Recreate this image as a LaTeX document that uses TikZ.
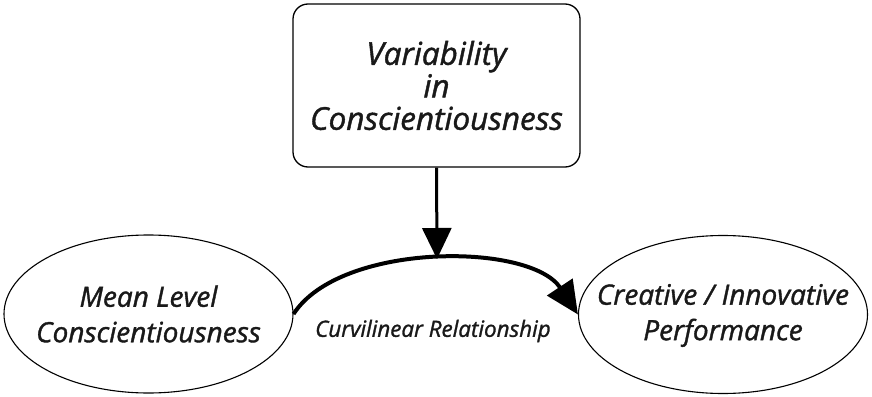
\documentclass[tikz,border=0pt]{standalone}
\usepackage{fontspec}
\setmainfont{Open Sans}[ItalicFeatures={FakeBold=1.3}]
\usetikzlibrary{shapes.geometric,arrows.meta}
\begin{document}
\begin{tikzpicture}[x=1pt,y=-1pt,
  every node/.style={font=\itshape, text=black!90},
  topbox/.style={draw, line width=1.3pt, rounded corners=15pt, minimum width=287pt, minimum height=163pt, align=center, font=\itshape\fontsize{31.5}{32.5}\selectfont},
  oval/.style={draw, ellipse, line width=1.1pt, minimum width=289pt, minimum height=158pt, inner sep=0pt},
  ovaltext/.style={inner sep=0pt, align=center, font=\itshape\fontsize{28}{35.5}\selectfont},
  flow/.style={line width=4pt, -{Triangle[length=33pt,width=30pt]}},
  push/.style={line width=3pt, -{Triangle[length=31pt,width=29pt]}}
]
\useasboundingbox (0,0) rectangle (872,396);
\node[topbox] (var) at (436.5,85.5) {Variability\\in\\Conscientiousness};
\node[oval] (mean) at (148.5,314) {};
\node[ovaltext] (meantxt) at (mean.center) {Mean Level\\Conscientiousness};
\node[oval] (perf) at (723,314.5) {};
\node[ovaltext] (perftxt) at ([yshift=-1pt]perf.center) {Creative / Innovative\\Performance};
\coordinate (peak) at (437,259);
\draw[flow] (mean.east) .. controls (340,242) and (530,242) .. (perf.west);
\draw[push] (var.south) -- (peak);
\node[font=\itshape\fontsize{22.4}{24}\selectfont] (lab) at (433,331) {Curvilinear Relationship};
\end{tikzpicture}
\end{document}
